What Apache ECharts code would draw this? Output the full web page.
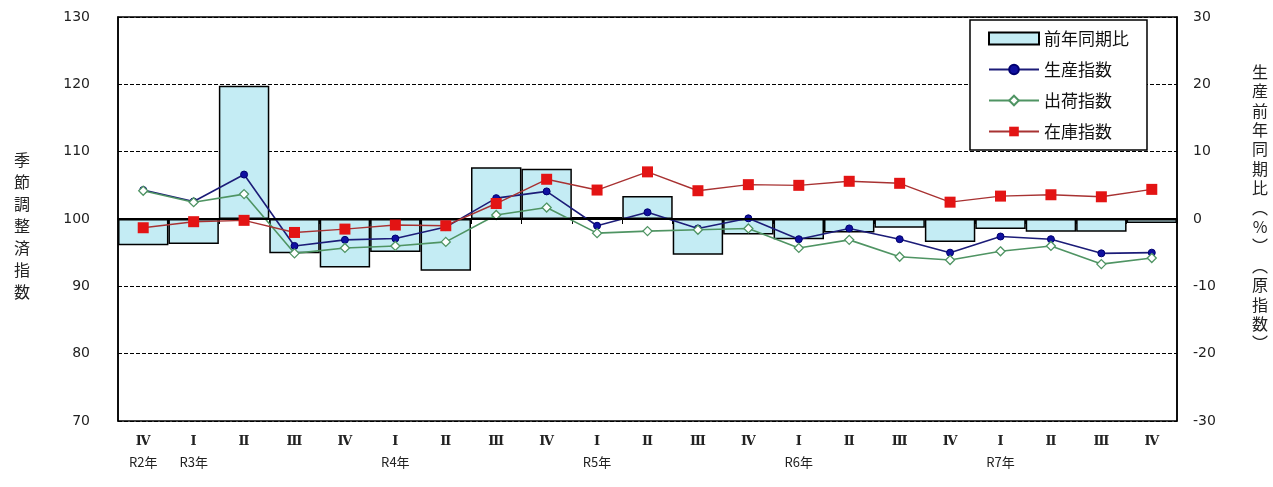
<!DOCTYPE html>
<html>
<head>
<meta charset="utf-8">
<script src="https://cdn.jsdelivr.net/npm/echarts@6/dist/echarts.min.js"></script>
<style>
html,body{margin:0;padding:0;background:#fff;}
#c{width:1273px;height:487px;}
</style>
</head>
<body>
<div id="c"></div>
<script>
const quarters = ['Ⅳ','Ⅰ','Ⅱ','Ⅲ','Ⅳ','Ⅰ','Ⅱ','Ⅲ','Ⅳ','Ⅰ','Ⅱ','Ⅲ','Ⅳ','Ⅰ','Ⅱ','Ⅲ','Ⅳ','Ⅰ','Ⅱ','Ⅲ','Ⅳ'];
const years = ['R2年','R3年','','','','R4年','','','','R5年','','','','R6年','','','','R7年','','',''];
const yoyChange = [-3.9, -3.7, 19.8, -5.1, -7.2, -4.9, -7.7, 7.7, 7.45, 0.3, 3.4, -5.3, -2.3, -3.0, -2.0, -1.3, -3.4, -1.5, -1.9, -1.9, -0.6];
const productionIndex = [104.3, 102.6, 106.6, 96.0, 96.9, 97.1, 98.8, 103.1, 104.1, 99.0, 101.0, 98.6, 100.1, 97.0, 98.6, 97.0, 95.0, 97.4, 97.0, 94.9, 95.0];
const shipmentIndex = [104.2, 102.5, 103.7, 94.9, 95.7, 96.0, 96.6, 100.6, 101.7, 97.9, 98.2, 98.4, 98.6, 95.7, 96.9, 94.4, 93.9, 95.2, 96.0, 93.3, 94.2];
const inventoryIndex = [98.7, 99.6, 99.8, 98.0, 98.5, 99.1, 99.0, 102.3, 105.9, 104.3, 107.0, 104.2, 105.1, 105.0, 105.6, 105.3, 102.5, 103.4, 103.6, 103.3, 104.4];
const leftTicks = {min: 70, max: 130, interval: 10};
const rightTicks = {min: -30, max: 30, interval: 10};
const leftName = '季節調整済指数';
const rightName = '生産前年同期比︵%︶︵原指数︶';
const names = ['前年同期比','生産指数','出荷指数','在庫指数'];

const chart = echarts.init(document.getElementById('c'), null, {renderer: 'canvas'});
const numFont = 'DejaVu Sans';
const cjkFont = '"Noto Sans CJK JP"';

chart.setOption({
  animation: false,
  backgroundColor: '#fff',
  grid: {left: 118, right: 96, top: 17, bottom: 66, show: true, borderColor: '#000', borderWidth: 1.5, containLabel: false},
  graphic: [
    {
      type: 'text', left: 14, top: 149, silent: true,
      style: {text: leftName.split('').join('\n'), fontFamily: 'Noto Sans CJK JP', fontSize: 16, lineHeight: 22, fill: '#222', textAlign: 'center'}
    },
    {
      type: 'text', left: 1252, top: 62, silent: true,
      style: {text: rightName.split('').join('\n'), fontFamily: 'Noto Sans CJK JP', fontSize: 16, lineHeight: 19.4, fill: '#222', textAlign: 'center'}
    }
  ],
  legend: {
    orient: 'vertical',
    left: 970, top: 20,
    padding: [10, 18, 10, 18],
    itemGap: 14,
    itemWidth: 50, itemHeight: 12,
    backgroundColor: '#fff',
    borderColor: '#000', borderWidth: 1.5,
    textStyle: {fontFamily: cjkFont, fontSize: 17, color: '#111'},
    data: [
      {name: names[0], icon: 'rect'},
      names[1],
      names[2],
      names[3]
    ]
  },
  xAxis: {
    type: 'category',
    data: quarters,
    boundaryGap: true,
    axisLine: {lineStyle: {color: '#000', width: 1.5}},
    axisTick: {show: true, alignWithLabel: false, length: 5, lineStyle: {color: '#000'}},
    axisLabel: {
      interval: 0, margin: 10,
      formatter: (v, i) => years[i] ? '{q|' + v + '}\n{y|' + years[i] + '}' : '{q|' + v + '}',
      rich: {
        q: {fontFamily: 'DejaVu Serif', fontWeight: 'bold', fontSize: 13, lineHeight: 21, color: '#222'},
        y: {fontFamily: cjkFont, fontSize: 13, lineHeight: 21, color: '#222'}
      }
    }
  },
  yAxis: [
    {
      type: 'value', position: 'left',
      min: leftTicks.min, max: leftTicks.max, interval: leftTicks.interval,
      axisLine: {show: true, lineStyle: {color: '#000', width: 1.5}},
      axisTick: {show: false},
      axisLabel: {margin: 28, fontFamily: numFont, fontSize: 14, color: '#222'},
      splitLine: {show: true, lineStyle: {color: '#000', type: [4, 2], width: 1.2}}
    },
    {
      type: 'value', position: 'right',
      min: rightTicks.min, max: rightTicks.max, interval: rightTicks.interval,
      axisLine: {show: true, lineStyle: {color: '#000', width: 1.5}},
      axisTick: {show: false},
      axisLabel: {margin: 16, fontFamily: numFont, fontSize: 14, color: '#222'},
      splitLine: {show: false}
    }
  ],
  series: [
    {
      name: names[0], type: 'bar', yAxisIndex: 1,
      data: yoyChange,
      barWidth: '100%', barCategoryGap: 0,
      itemStyle: {color: '#c4ecf4', borderColor: '#000', borderWidth: 1.5},
      markLine: {
        silent: true, symbol: ['none', 'none'], label: {show: false},
        lineStyle: {color: '#000', type: 'solid', width: 2},
        data: [{yAxis: 0}]
      },
      z: 1
    },
    {
      name: names[1], type: 'line', yAxisIndex: 0,
      data: productionIndex,
      symbol: 'circle', symbolSize: 7,
      lineStyle: {color: '#1c1c78', width: 1.6},
      itemStyle: {color: '#1010a0', borderColor: '#000070', borderWidth: 1},
      z: 3
    },
    {
      name: names[2], type: 'line', yAxisIndex: 0,
      data: shipmentIndex,
      symbol: 'diamond', symbolSize: 9,
      lineStyle: {color: '#4f9463', width: 1.6},
      itemStyle: {color: '#ffffff', borderColor: '#4f9463', borderWidth: 1.3},
      z: 4
    },
    {
      name: names[3], type: 'line', yAxisIndex: 0,
      data: inventoryIndex,
      symbol: 'rect', symbolSize: 11,
      lineStyle: {color: '#a83232', width: 1.4},
      itemStyle: {color: '#e31414', borderColor: '#d01010', borderWidth: 0},
      z: 5
    }
  ]
});
</script>
</body>
</html>
